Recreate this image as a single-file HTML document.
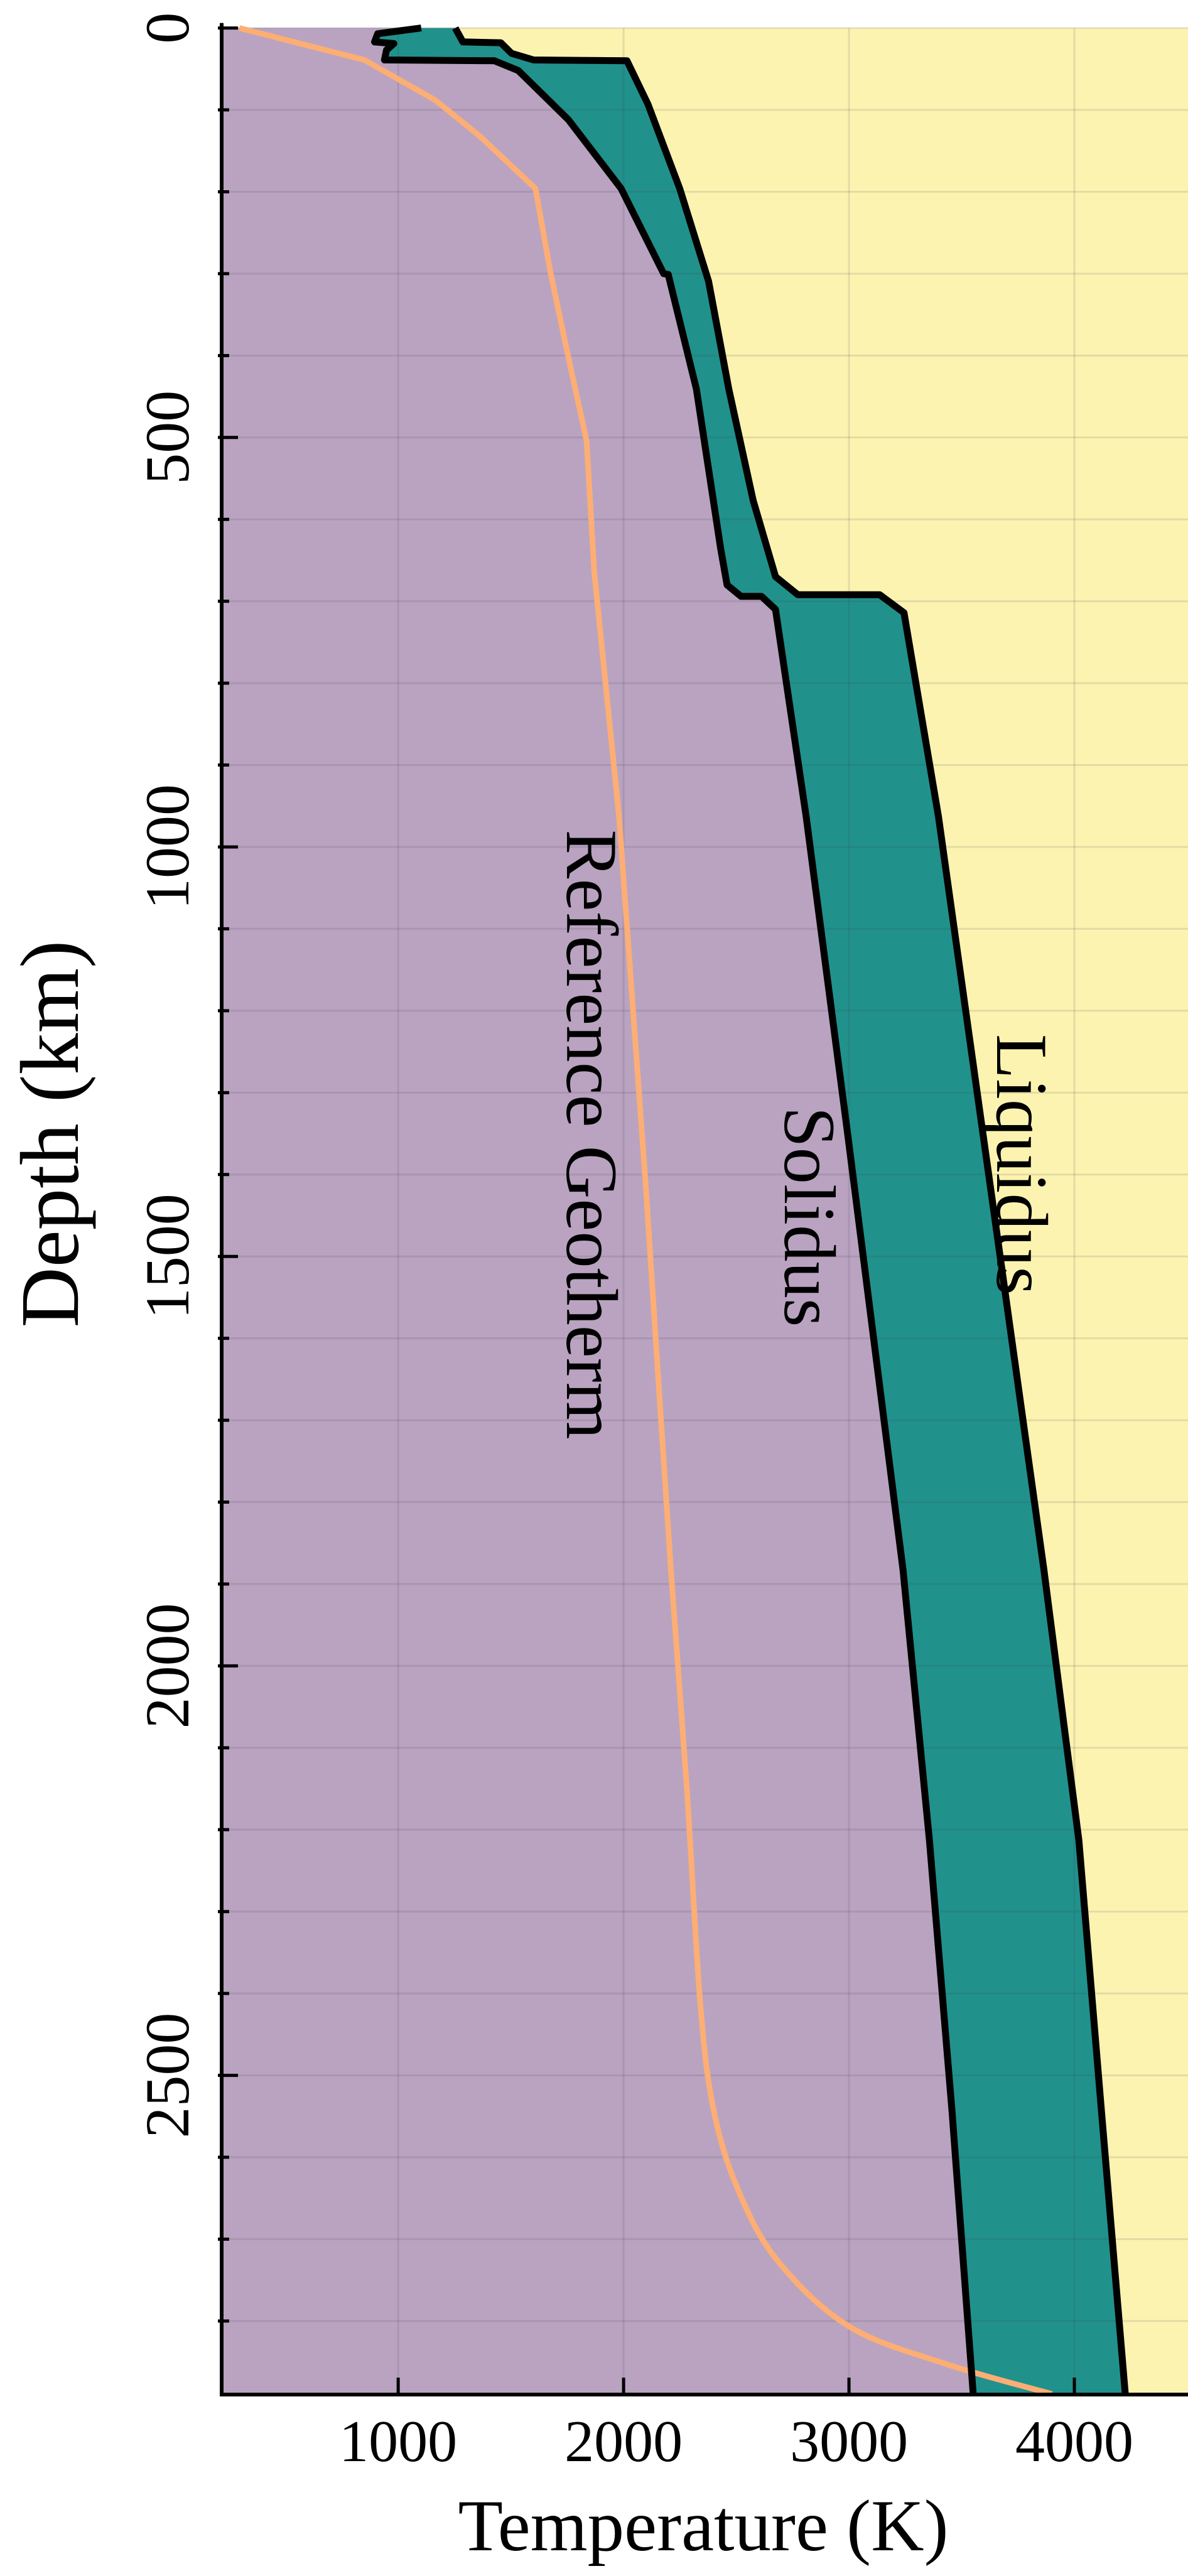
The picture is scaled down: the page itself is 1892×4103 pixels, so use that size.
<!DOCTYPE html>
<html><head><meta charset="utf-8">
<style>
html,body{margin:0;padding:0;background:#fff;}
svg{display:block;font-family:"Liberation Serif",serif;}
</style></head>
<body>
<svg id="chart" width="1892" height="4103" xmlns="http://www.w3.org/2000/svg">
<g id="plot"></g>
</svg>
<script>
// ---- data ----
const solidusT = [1102,909,895,981,948,939,1427,1533,1755,1989,2178,2198,2323,2431,2459,2521,2612,2674,2810,2994,3240,3357,3457,3551];
const solidusD = [0,7,17,19,27,39,40,52,112,196,300,301,441,636,680,694,694,710,963,1350,1883,2213,2543,2889];
const liquidusT = [1253,1287,1455,1503,1601,2015,2108,2249,2377,2467,2575,2674,2773,3136,3244,3397,3630,3865,4020,4120,4226];
const liquidusD = [0,17,18,31,39,40,93,196,309,441,577,670,692,692,714,963,1420,1883,2213,2543,2889];
const geoT = [295,850,1164,1362,1609,1676,1762,1836,1870,1980,2100,2210,2280,2340,2400,2510,2685,3003,3437,3900];
const geoD = [0,39,88,132,196,299,411,504,665,963,1420,1883,2147,2411,2543,2641,2727,2807,2853,2889];
const xTicks = [1000,2000,3000,4000];
const yTicks = [0,500,1000,1500,2000,2500];
// ---- axes ----
const L=347,R=1890.5,T0=44.6,B=3813;
const tMin=200,tMax=4500,dMin=0,dMax=2889;
const X=t=>L+(t-tMin)/(tMax-tMin)*(R-L);
const Y=d=>T0+(d-dMin)/(dMax-dMin)*(B-T0);
const NS="http://www.w3.org/2000/svg";
const g=document.getElementById('plot');
function mk(tag,attrs,parent){const e=document.createElementNS(NS,tag);for(const k in attrs)e.setAttribute(k,attrs[k]);(parent||g).appendChild(e);return e;}
function pts(ts,ds){return ts.map((t,i)=>X(t).toFixed(1)+','+Y(ds[i]).toFixed(1));}
// straight segments up to index `k`, Catmull-Rom spline afterwards
function hybridPath(ts,ds,k){
 const p=ts.map((t,i)=>[X(t),Y(ds[i])]);
 let s='M'+p[0][0].toFixed(1)+','+p[0][1].toFixed(1);
 for(let i=0;i<p.length-1;i++){
  const p1=p[i],p2=p[i+1];
  if(i<k){s+=' L'+p2[0].toFixed(1)+','+p2[1].toFixed(1);continue;}
  const p0=p[Math.max(k,i-1)],p3=p[Math.min(p.length-1,i+2)];
  const c1=[p1[0]+(p2[0]-p0[0])/6,p1[1]+(p2[1]-p0[1])/6];
  const c2=[p2[0]-(p3[0]-p1[0])/6,p2[1]-(p3[1]-p1[1])/6];
  s+=' C'+c1.map(v=>v.toFixed(1)).join(',')+' '+c2.map(v=>v.toFixed(1)).join(',')+' '+p2[0].toFixed(1)+','+p2[1].toFixed(1);
 }
 return s;
}
const AX=353;
let e;
e=mk('rect',{x:AX,y:T0,width:1892-AX,height:B-T0,fill:'#fcf3b0'});


e=mk('polygon',{points:pts(liquidusT,liquidusD).concat([AX+','+Y(dMax),AX+','+Y(0)]).join(' '),fill:'#21918c'});


e=mk('polygon',{points:pts(solidusT,solidusD).concat([AX+','+Y(dMax),AX+','+Y(0)]).join(' '),fill:'#b9a3c0'});



// grid
for(let d=0;d<=2800;d+=100){
 e=mk('line',{x1:AX,x2:1892,y1:Y(d),y2:Y(d),stroke:'rgba(60,60,80,0.13)','stroke-width':3});
 
 
}
xTicks.forEach(t=>{
 e=mk('line',{x1:X(t),x2:X(t),y1:T0,y2:B,stroke:'rgba(60,60,80,0.13)','stroke-width':3});
 
 
});

// curves
e=mk('path',{d:hybridPath(geoT,geoD,10),fill:'none',stroke:'#fdae74','stroke-width':9,'stroke-linejoin':'round'});


e=mk('polyline',{points:pts(solidusT,solidusD).join(' '),fill:'none',stroke:'#000','stroke-width':11,'stroke-linejoin':'round'});


e=mk('polyline',{points:pts(liquidusT,liquidusD).join(' '),fill:'none',stroke:'#000','stroke-width':11,'stroke-linejoin':'round'});



// axes
e=mk('line',{x1:AX,x2:AX,y1:T0-8,y2:B+3,stroke:'#000','stroke-width':6});


e=mk('line',{x1:AX-3,x2:1892,y1:B+1,y2:B+1,stroke:'#000','stroke-width':6});


for(let d=0;d<=2800;d+=100){
 const major=d%500===0;
 e=mk('line',{x1:AX-6,x2:AX+(major?26:12),y1:Y(d),y2:Y(d),stroke:'#000','stroke-width':5});
 
 
}
yTicks.forEach(d=>{
 const tx=mk('text',{x:0,y:0,transform:`translate(300,${Y(d)}) rotate(-90)`,'text-anchor':'middle','font-size':100});
 tx.textContent=d;
 
 
});
xTicks.forEach(t=>{
 e=mk('line',{x1:X(t),x2:X(t),y1:B-26,y2:B,stroke:'#000','stroke-width':5});
 
 
 const tx=mk('text',{x:X(t),y:3920,'text-anchor':'middle','font-size':94});
 tx.textContent=t;
 
 
});

// titles
e=mk('text',{x:1120,y:4062,'text-anchor':'middle','font-size':117});
e.textContent='Temperature (K)';


e=mk('text',{x:0,y:0,transform:'translate(124,1806) rotate(-90)','text-anchor':'middle','font-size':133});
e.textContent='Depth (km)';



// curve labels
e=mk('text',{x:0,y:0,transform:'translate(903,1807) rotate(90)','text-anchor':'middle','font-size':117});
e.textContent='Reference Geotherm';


e=mk('text',{x:0,y:0,transform:'translate(1250,1938) rotate(90)','text-anchor':'middle','font-size':117});
e.textContent='Solidus';


e=mk('text',{x:0,y:0,transform:'translate(1588,1855) rotate(90)','text-anchor':'middle','font-size':117});
e.textContent='Liquidus';


</script>
</body></html>
